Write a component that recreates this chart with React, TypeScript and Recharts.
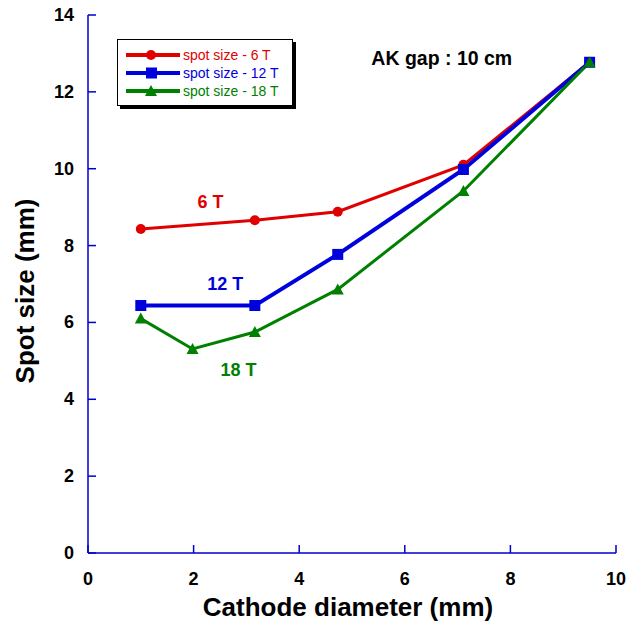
import { LineChart, Line, XAxis, YAxis, ReferenceDot } from "recharts"

const spot6T = [
  { d: 1.0, s: 8.43 },
  { d: 3.16, s: 8.66 },
  { d: 4.73, s: 8.88 },
  { d: 7.11, s: 10.1 },
  { d: 9.5, s: 12.77 },
]
const spot12T = [
  { d: 1.0, s: 6.44 },
  { d: 3.16, s: 6.44 },
  { d: 4.73, s: 7.77 },
  { d: 7.11, s: 9.98 },
  { d: 9.5, s: 12.77 },
]
const spot18T = [
  { d: 1.0, s: 6.1 },
  { d: 1.98, s: 5.31 },
  { d: 3.16, s: 5.75 },
  { d: 4.73, s: 6.86 },
  { d: 7.11, s: 9.42 },
  { d: 9.5, s: 12.77 },
]
const xTicks = [0, 2, 4, 6, 8, 10]
const yTicks = [0, 2, 4, 6, 8, 10, 12, 14]

const RED = "#e00000"
const BLUE = "#0000dd"
const GREEN = "#008000"
const AXIS = "#0000cc"
const FONT = "Arial, 'Liberation Sans', sans-serif"

const circleDot = (p: any) => (
  <circle key={`c${p.index}`} cx={p.cx} cy={p.cy} r={5} fill={RED} />
)
const squareDot = (p: any) => (
  <rect key={`s${p.index}`} x={p.cx - 5.5} y={p.cy - 5.5} width={11} height={11} fill={BLUE} />
)
const triDot = (p: any) => (
  <path
    key={`t${p.index}`}
    d={`M${p.cx},${p.cy - 6} L${p.cx + 6},${p.cy + 5} L${p.cx - 6},${p.cy + 5} Z`}
    fill={GREEN}
  />
)

const LeftTick = ({ x, y, payload }: any) => (
  <g>
    <line x1={x} y1={y} x2={x + 8} y2={y} stroke={AXIS} strokeWidth={1.5} />
    <text x={x - 14} y={y} textAnchor="end" dominantBaseline="central" fontSize={18} fontWeight="bold" fill="#000" fontFamily={FONT}>
      {payload.value}
    </text>
  </g>
)
const BottomTick = ({ x, y, payload }: any) => (
  <g>
    <line x1={x} y1={y} x2={x} y2={y - 8} stroke={AXIS} strokeWidth={1.5} />
    <text x={x} y={y + 26} textAnchor="middle" dominantBaseline="central" fontSize={18} fontWeight="bold" fill="#000" fontFamily={FONT}>
      {payload.value}
    </text>
  </g>
)
const RightTick = ({ x, y }: any) => (
  <line x1={x} y1={y} x2={x - 8} y2={y} stroke={AXIS} strokeWidth={1.5} />
)
const TopTick = ({ x, y }: any) => (
  <line x1={x} y1={y} x2={x} y2={y + 8} stroke={AXIS} strokeWidth={1.5} />
)

const legendItems = [
  { label: "spot size - 6 T", color: RED, mark: "circle" },
  { label: "spot size - 12 T", color: BLUE, mark: "square" },
  { label: "spot size - 18 T", color: GREEN, mark: "triangle" },
]

const LegendBox = () => (
  <div
    style={{
      position: "absolute",
      left: 117,
      top: 39,
      width: 157,
      border: "1.5px solid #000",
      boxShadow: "3px 3px 0 #000",
      background: "#fff",
      padding: "6px 9px 5px 8px",
      fontFamily: FONT,
      fontSize: 14,
      lineHeight: "18px",
      whiteSpace: "nowrap",
    }}
  >
    {legendItems.map((it) => (
      <div key={it.label} style={{ display: "flex", alignItems: "center", color: it.color }}>
        <svg width={56} height={18}>
          <line x1={0} y1={9} x2={54} y2={9} stroke={it.color} strokeWidth={4} />
          {it.mark === "circle" && <circle cx={25} cy={9} r={5} fill={it.color} />}
          {it.mark === "square" && <rect x={20} y={3.5} width={11} height={11} fill={it.color} />}
          {it.mark === "triangle" && <path d="M25,3 L31,14 L19,14 Z" fill={it.color} />}
        </svg>
        <span style={{ marginLeft: 1 }}>{it.label}</span>
      </div>
    ))}
  </div>
)

export default function App() {
  return (
    <div style={{ position: "absolute", left: 0, top: 0, width: 628, height: 621, background: "#fff" }}>
      <LineChart width={628} height={621} margin={{ top: 15, right: 12, bottom: 0, left: 0 }}>
        <XAxis
          xAxisId="b"
          type="number"
          dataKey="d"
          domain={[0, 10]}
          ticks={xTicks}
          height={68}
          tickSize={0}
          tickMargin={0}
          tickLine={false}
          axisLine={{ stroke: AXIS, strokeWidth: 1.5 }}
          tick={<BottomTick />}
          label={{
            content: () => (
              <text x={348} y={616} textAnchor="middle" fontSize={26} fontWeight="bold" fontFamily={FONT} fill="#000">
                Cathode diameter (mm)
              </text>
            ),
          }}
        />
        <XAxis
          xAxisId="t"
          orientation="top"
          type="number"
          domain={[0, 10]}
          ticks={xTicks}
          height={0}
          tickSize={0}
          tickMargin={0}
          tickLine={false}
          axisLine={{ stroke: AXIS, strokeWidth: 1.5 }}
          tick={<TopTick />}
        />
        <YAxis
          yAxisId="l"
          type="number"
          domain={[0, 14]}
          ticks={yTicks}
          width={88}
          tickSize={0}
          tickMargin={0}
          tickLine={false}
          axisLine={{ stroke: AXIS, strokeWidth: 1.5 }}
          tick={<LeftTick />}
          label={{
            content: () => (
              <text x={33.5} y={291} transform="rotate(-90 33.5 291)" textAnchor="middle" fontSize={26} fontWeight="bold" fontFamily={FONT} fill="#000">
                Spot size (mm)
              </text>
            ),
          }}
        />
        <YAxis
          yAxisId="r"
          orientation="right"
          type="number"
          domain={[0, 14]}
          ticks={yTicks}
          width={0}
          tickSize={0}
          tickMargin={0}
          tickLine={false}
          axisLine={{ stroke: AXIS, strokeWidth: 1.5 }}
          tick={<RightTick />}
        />
        <Line xAxisId="b" yAxisId="l" data={spot6T} dataKey="s" name="spot size - 6 T" stroke={RED} strokeWidth={3} dot={circleDot} isAnimationActive={false} />
        <Line xAxisId="b" yAxisId="l" data={spot12T} dataKey="s" name="spot size - 12 T" stroke={BLUE} strokeWidth={4} dot={squareDot} isAnimationActive={false} />
        <Line xAxisId="b" yAxisId="l" data={spot18T} dataKey="s" name="spot size - 18 T" stroke={GREEN} strokeWidth={3} dot={triDot} isAnimationActive={false} />
        <ReferenceDot xAxisId="b" yAxisId="l" x={2.32} y={9.15} r={0} fill="none" stroke="none" label={{ value: "6 T", fill: RED, fontSize: 18, fontWeight: "bold", fontFamily: FONT }} />
        <ReferenceDot xAxisId="b" yAxisId="l" x={2.6} y={7.0} r={0} fill="none" stroke="none" label={{ value: "12 T", fill: BLUE, fontSize: 18, fontWeight: "bold", fontFamily: FONT }} />
        <ReferenceDot xAxisId="b" yAxisId="l" x={2.85} y={4.78} r={0} fill="none" stroke="none" label={{ value: "18 T", fill: GREEN, fontSize: 18, fontWeight: "bold", fontFamily: FONT }} />
        <ReferenceDot xAxisId="b" yAxisId="l" x={6.7} y={12.88} r={0} fill="none" stroke="none" label={{ value: "AK gap : 10 cm", fill: "#000", fontSize: 19.5, fontWeight: "bold", fontFamily: FONT }} />
      </LineChart>
      <LegendBox />
    </div>
  )
}
